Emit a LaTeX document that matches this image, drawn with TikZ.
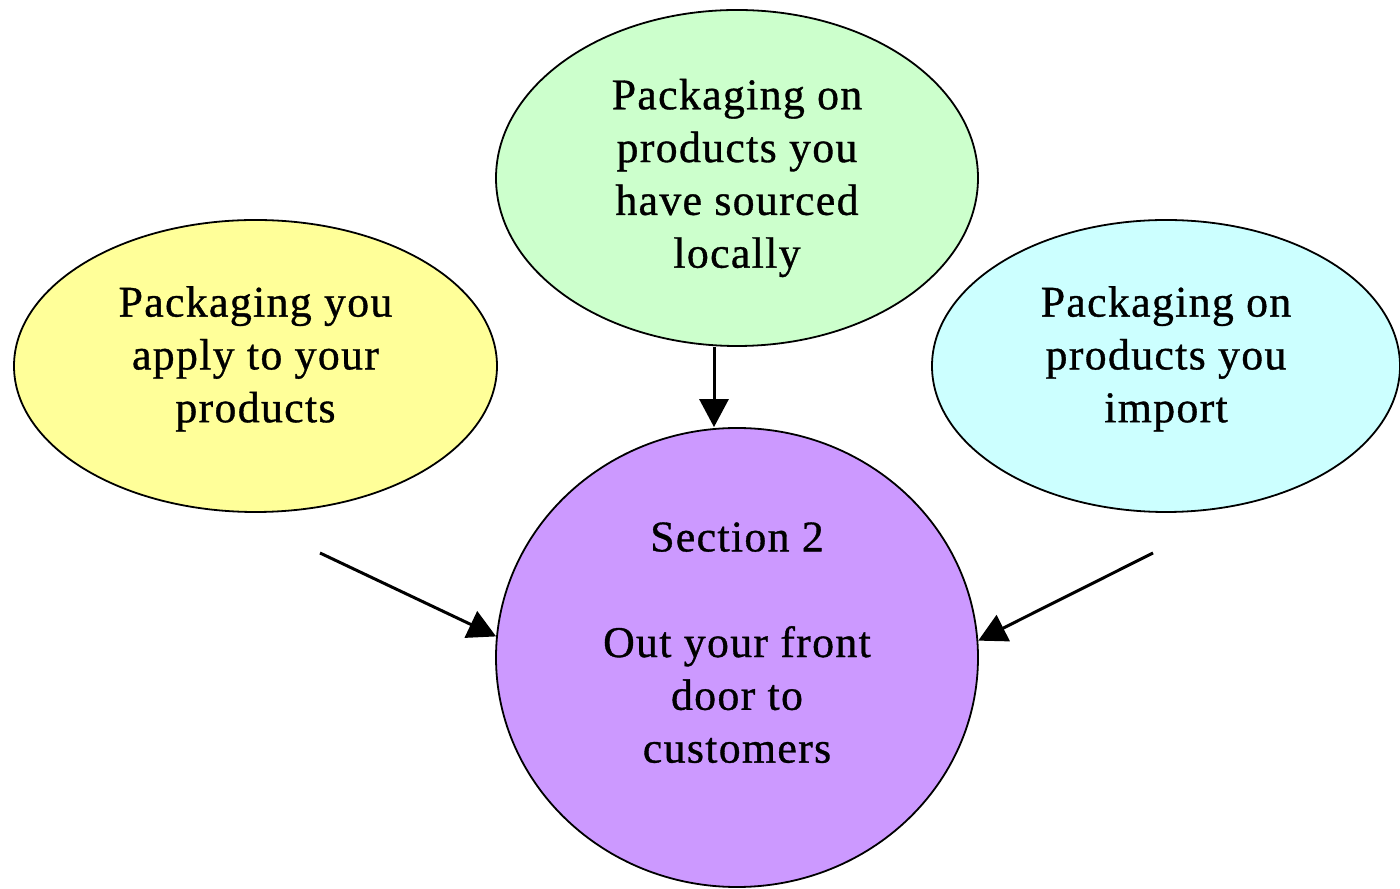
\documentclass[tikz,border=0pt]{standalone}
\usepackage{fontspec}
\setmainfont[LetterSpace=3,FakeBold=0.8]{Liberation Serif}
\usetikzlibrary{arrows.meta,shapes.geometric}
\definecolor{localfill}{HTML}{CCFFCC}
\definecolor{ownfill}{HTML}{FFFF99}
\definecolor{importfill}{HTML}{CCFFFF}
\definecolor{doorfill}{HTML}{CC99FF}
\begin{document}
\begin{tikzpicture}[>={Triangle[length=14bp,width=14.5bp]},line join=bevel,
  blob/.style={ellipse,draw,line width=0.9bp,inner sep=0pt,align=center,
    font=\fontsize{22}{26.5}\selectfont},
  lift/.style={text depth=#1},
  feed/.style={->,line width=1.5bp}]
%%
\useasboundingbox (0bp,0bp) rectangle (700bp,444.5bp);
\node (local) at (368.5bp,355.5bp) [blob,fill=localfill,minimum width=241bp,minimum height=168bp] {Packaging on\\products you\\have sourced\\locally};
  \node (own) at (127.75bp,261.5bp) [blob,lift=11.8bp,fill=ownfill,minimum width=241.5bp,minimum height=146bp] {Packaging you\\apply to your\\products};
  \node (import) at (583bp,261.5bp) [blob,lift=11.8bp,fill=importfill,minimum width=234bp,minimum height=146bp] {Packaging on\\products you\\import};
  \node (door) at (368.5bp,115.75bp) [blob,lift=15bp,fill=doorfill,minimum width=241bp,minimum height=229.5bp] {Section 2\\~\\Out your front\\door to\\customers};
  \coordinate (ownend) at (160bp,168bp);
  \coordinate (importend) at (576.5bp,168bp);
  \draw [feed] ([xshift=-11.5bp]local.south) -- ([xshift=-11.5bp]door.north);
  \draw [feed] (ownend) -- (door.175.5);
  \draw [feed] (importend) -- (door.4.5);
%
\end{tikzpicture}
\end{document}
